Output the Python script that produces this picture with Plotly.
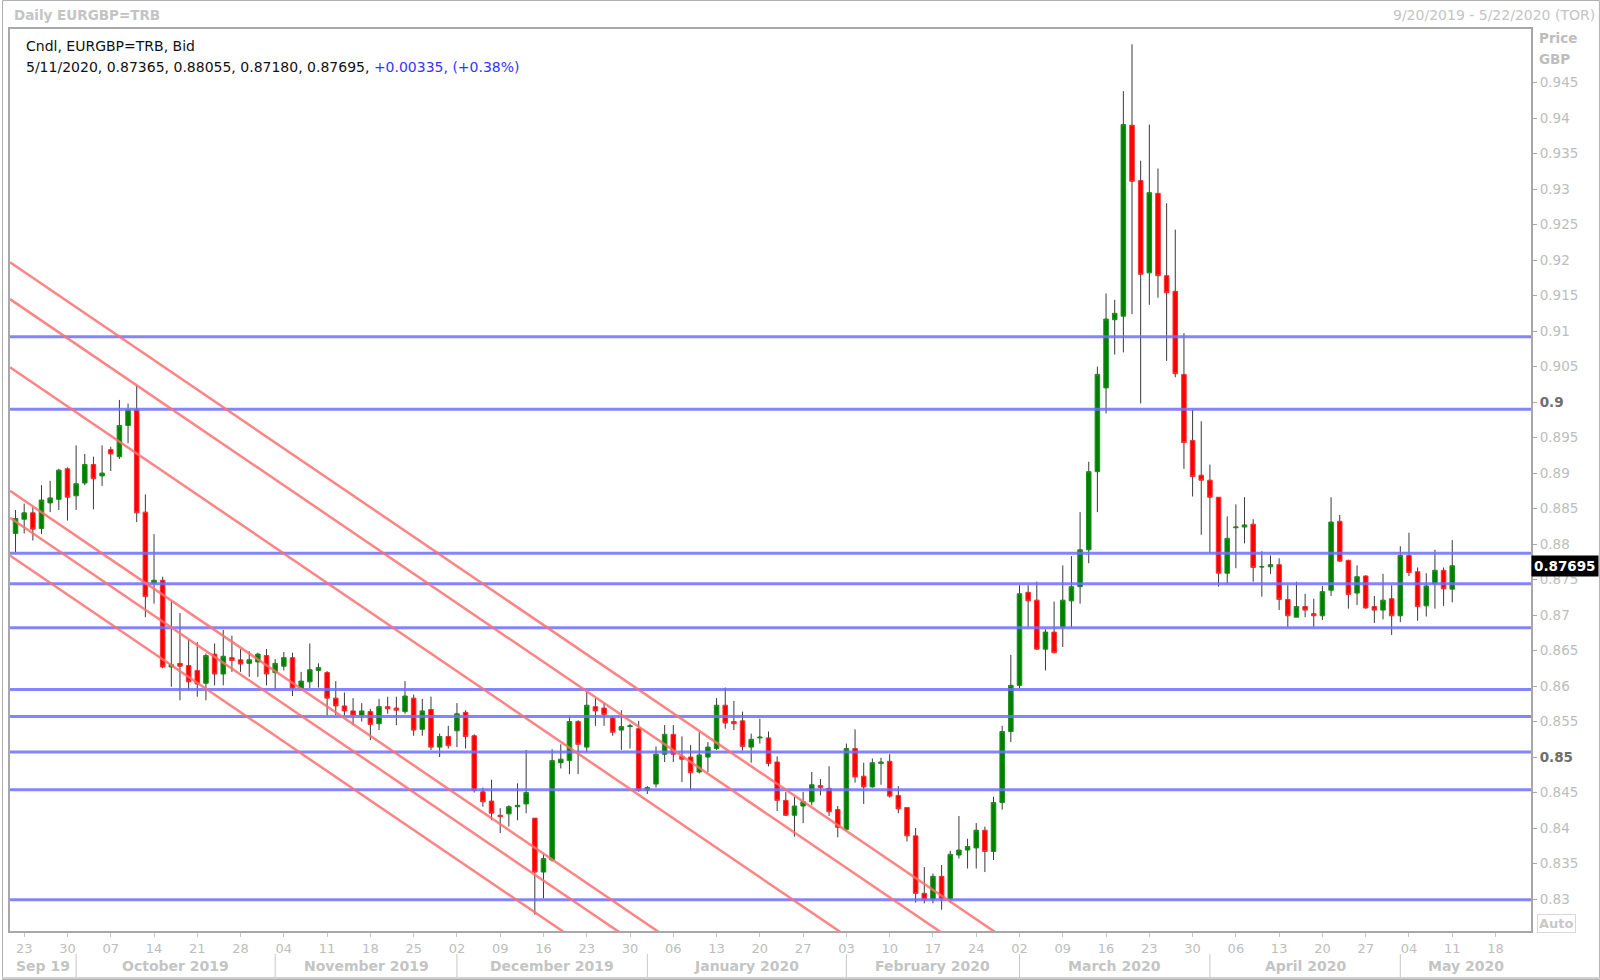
import plotly.graph_objects as go
import pandas as pd

# ---------------- data ----------------
start_date = "2019-09-20"
opens = [0.8815,0.8835,0.8844,0.8822,0.8858,0.8863,0.8906,0.8868,0.8886,0.8912,
         0.8896,0.8933,0.8923,0.8967,0.8989,0.8845,0.8745,0.8749,0.8627,0.8632,
         0.8629,0.8622,0.8604,0.8645,0.8617,0.8640,0.8637,0.8632,0.8634,0.8643,
         0.8619,0.8628,0.8640,0.8597,0.8606,0.8622,0.8619,0.8583,0.8572,0.8565,
         0.8559,0.8564,0.8547,0.8571,0.8569,0.8564,0.8583,0.8539,0.8567,0.8514,
         0.8529,0.8537,0.8563,0.8530,0.8451,0.8438,0.8418,0.8420,0.8430,0.8434,
         0.8414,0.8338,0.8355,0.8492,0.8495,0.8550,0.8514,0.8571,0.8569,0.8555,
         0.8538,0.8543,0.8540,0.8453,0.8462,0.8504,0.8532,0.8501,0.8500,0.8479,
         0.8500,0.8512,0.8573,0.8550,0.8551,0.8514,0.8527,0.8527,0.8493,0.8439,
         0.8418,0.8431,0.8437,0.8460,0.8456,0.8426,0.8398,0.8512,0.8473,0.8458,
         0.8491,0.8494,0.8446,0.8429,0.8389,0.8308,0.8300,0.8332,0.8300,0.8362,
         0.8369,0.8372,0.8397,0.8367,0.8436,0.8536,0.8601,0.8732,0.8721,0.8652,
         0.8676,0.8683,0.8720,0.8740,0.8792,0.8902,0.9020,0.9116,0.9121,0.9390,
         0.9312,0.9182,0.9294,0.9178,0.9156,0.9039,0.8946,0.8897,0.8890,0.8866,
         0.8759,0.8823,0.8824,0.8828,0.8768,0.8768,0.8771,0.8722,0.8697,0.8712,
         0.8702,0.8699,0.8735,0.8832,0.8777,0.8731,0.8755,0.8712,0.8707,0.8723,
         0.8699,0.8784,0.8761,0.8713,0.8744,0.8763,0.87365]
highs = [0.8848,0.8857,0.8852,0.8883,0.8889,0.8906,0.8908,0.8939,0.8927,0.8923,
         0.8939,0.8937,0.9003,0.8998,0.9024,0.8870,0.8814,0.8754,0.8719,0.8703,
         0.8665,0.8662,0.8646,0.8660,0.8679,0.8671,0.8652,0.8649,0.8647,0.8652,
         0.8638,0.8648,0.8647,0.8620,0.8660,0.8632,0.8621,0.8607,0.8591,0.8583,
         0.8576,0.8568,0.8582,0.8585,0.8585,0.8607,0.8588,0.8582,0.8585,0.8533,
         0.8544,0.8576,0.8566,0.8532,0.8457,0.8468,0.8428,0.8432,0.8463,0.8510,
         0.8414,0.8363,0.8511,0.8518,0.8557,0.8552,0.8592,0.8583,0.8576,0.8557,
         0.8566,0.8547,0.8551,0.8459,0.8515,0.8545,0.8545,0.8529,0.8517,0.8535,
         0.8521,0.8583,0.8598,0.8579,0.8564,0.8533,0.8554,0.8536,0.8501,0.8451,
         0.8444,0.8451,0.8479,0.8469,0.8487,0.8431,0.8519,0.8539,0.8492,0.8498,
         0.8499,0.8504,0.8459,0.8429,0.8400,0.8345,0.8336,0.8348,0.8368,0.8417,
         0.8385,0.8407,0.8402,0.8444,0.8544,0.8644,0.8742,0.8742,0.8747,0.8680,
         0.8719,0.8770,0.8783,0.8845,0.8916,0.9050,0.9153,0.9144,0.9438,0.9504,
         0.9340,0.9391,0.9329,0.9280,0.9243,0.9097,0.8989,0.8973,0.8912,0.8866,
         0.8839,0.8856,0.8866,0.8835,0.8790,0.8784,0.8780,0.8742,0.8747,0.8730,
         0.8723,0.8741,0.8866,0.8841,0.8778,0.8770,0.8756,0.8727,0.8758,0.8742,
         0.8797,0.8816,0.8767,0.8759,0.8792,0.8767,0.88055]
lows = [0.8788,0.8815,0.8805,0.8814,0.8845,0.8848,0.8833,0.8848,0.8883,0.8849,
        0.8882,0.8903,0.8920,0.8942,0.8831,0.8697,0.8716,0.8625,0.8599,0.8580,
        0.8594,0.8585,0.8580,0.8601,0.8601,0.8620,0.8620,0.8613,0.8613,0.8601,
        0.8594,0.8622,0.8586,0.8594,0.8597,0.8598,0.8559,0.8559,0.8559,0.8545,
        0.8550,0.8524,0.8538,0.8561,0.8545,0.8561,0.8530,0.8530,0.8510,0.8500,
        0.8512,0.8514,0.8512,0.8450,0.8430,0.8411,0.8393,0.8402,0.8411,0.8421,
        0.8278,0.8301,0.8353,0.8484,0.8476,0.8476,0.8507,0.8544,0.8544,0.8530,
        0.8510,0.8512,0.8451,0.8448,0.8457,0.8493,0.8493,0.8465,0.8453,0.8477,
        0.8479,0.8510,0.8540,0.8538,0.8509,0.8492,0.8519,0.8487,0.8424,0.8417,
        0.8388,0.8407,0.8432,0.8446,0.8417,0.8387,0.8397,0.8464,0.8434,0.8457,
        0.8461,0.8443,0.8421,0.8381,0.8295,0.8294,0.8294,0.8285,0.8295,0.8357,
        0.8343,0.8343,0.8338,0.8355,0.8426,0.8521,0.8597,0.8683,0.8651,0.8622,
        0.8646,0.8655,0.8683,0.8716,0.8773,0.8845,0.8984,0.9067,0.9070,0.9124,
        0.8998,0.9137,0.9147,0.9058,0.9035,0.8906,0.8867,0.8813,0.8787,0.8740,
        0.8745,0.8766,0.8801,0.8747,0.8726,0.8758,0.8707,0.8683,0.8697,0.8697,
        0.8683,0.8693,0.8727,0.8775,0.8709,0.8714,0.8709,0.8689,0.8694,0.8672,
        0.8690,0.8755,0.8692,0.8698,0.8709,0.8713,0.87180]
closes = [0.8836,0.8844,0.8821,0.8862,0.8865,0.8904,0.8866,0.8885,0.8912,0.8892,
          0.8900,0.8927,0.8967,0.8989,0.8844,0.8726,0.8749,0.8627,0.8630,0.8628,
          0.8606,0.8603,0.8643,0.8617,0.8642,0.8636,0.8631,0.8637,0.8645,0.8617,
          0.8632,0.8640,0.8597,0.8607,0.8623,0.8626,0.8583,0.8572,0.8565,0.8559,
          0.8565,0.8546,0.8571,0.8568,0.8566,0.8586,0.8538,0.8565,0.8514,0.8529,
          0.8516,0.8561,0.8529,0.8453,0.8437,0.8421,0.8416,0.8430,0.8432,0.8450,
          0.8338,0.8357,0.8495,0.8497,0.8550,0.8518,0.8573,0.8565,0.8560,0.8535,
          0.8543,0.8544,0.8453,0.8457,0.8504,0.8532,0.8504,0.8497,0.8478,0.8503,
          0.8514,0.8573,0.8548,0.8547,0.8515,0.8525,0.8528,0.8491,0.8439,0.8418,
          0.8431,0.8437,0.8461,0.8457,0.8423,0.8401,0.8512,0.8472,0.8458,0.8492,
          0.8493,0.8445,0.8427,0.8389,0.8308,0.8300,0.8332,0.8301,0.8363,0.8369,
          0.8374,0.8397,0.8367,0.8436,0.8536,0.8601,0.8730,0.8720,0.8652,0.8676,
          0.8647,0.8721,0.8740,0.8792,0.8902,0.9039,0.9117,0.9125,0.9391,0.9311,
          0.9180,0.9295,0.9178,0.9154,0.9040,0.8943,0.8895,0.8890,0.8866,0.8759,
          0.8808,0.8824,0.8827,0.8767,0.8768,0.8771,0.8722,0.8699,0.8712,0.8707,
          0.8699,0.8733,0.8831,0.8776,0.8729,0.8754,0.8710,0.8707,0.8721,0.8699,
          0.8784,0.8760,0.8712,0.8741,0.8763,0.8737,0.87695]

# header values (last bar, change vs previous close)
header_date = "5/11/2020"
header_change = "+0.00335"
header_pct = "(+0.38%)"

# weekly (Monday) tick labels
monday_labels = ["23","30","07","14","21","28","04","11","18","25","02","09","16",
                 "23","30","06","13","20","27","03","10","17","24","02","09","16",
                 "23","30","06","13","20","27","04","11","18"]
month_labels = ["Sep 19","October 2019","November 2019","December 2019","January 2020",
                "February 2020","March 2020","April 2020","May 2020"]
month_starts = ["2019-09-20","2019-10-01","2019-11-01","2019-12-02","2020-01-01",
                "2020-02-03","2020-03-02","2020-04-01","2020-05-01"]
end_date = "2020-05-22"

# horizontal support / resistance levels
h_levels = [0.9092, 0.8990, 0.8787, 0.8744, 0.8682, 0.8595, 0.8557, 0.8507, 0.8454, 0.8299]
# descending trend channel lines: price at the left edge and common slope (per bar)
trend_start = [0.9197, 0.9145, 0.9049, 0.8875, 0.8837, 0.8784]
trend_slope = -0.000829

y_tick_vals = [0.83,0.835,0.84,0.845,0.85,0.855,0.86,0.865,0.87,0.875,0.88,0.885,
               0.89,0.895,0.9,0.905,0.91,0.915,0.92,0.925,0.93,0.935,0.94,0.945]
y_tick_text = ["0.83","0.835","0.84","0.845","0.85","0.855","0.86","0.865","0.87","0.875",
               "0.88","0.885","0.89","0.895","0.9","0.905","0.91","0.915","0.92","0.925",
               "0.93","0.935","0.94","0.945"]
bold_ticks = ["0.9", "0.85"]
last_price = 0.87695

# ---------------- derived positions (trading-day index axis) ----------------
idx = list(range(len(opens)))
t0 = pd.Timestamp(start_date)
def bidx(d):
    d = pd.Timestamp(d)
    return len(pd.bdate_range(t0, d)) - 1
all_days = pd.bdate_range(start_date, end_date)
monday_idx = [i for i, d in enumerate(all_days) if d.weekday() == 0]
x_min, x_max = -0.64, bidx(end_date) + 0.1
y_min, y_max = 0.8255, 0.95255

# ---------------- figure ----------------
W, H = 1600, 980
ML, MR, MT, MB = 8, 69, 29, 49
PW, PH = W - ML - MR, H - MT - MB
def px(xp):  # figure pixel -> paper x
    return (xp - ML) / PW
def py(yp):  # figure pixel -> paper y
    return (H - MB - yp) / PH

fig = go.Figure()

# wicks (above and below bodies)
wx, wy = [], []
for i, o, h, l, c in zip(idx, opens, highs, lows, closes):
    top, bot = max(o, c), min(o, c)
    wx += [i, i, None, i, i, None]
    wy += [h, top, None, bot, l, None]
fig.add_trace(go.Scatter(x=wx, y=wy, mode="lines", line=dict(color="#3a3a3a", width=1),
                         hoverinfo="skip"))

body_hi = [max(o, c) for o, c in zip(opens, closes)]
body_lo = [min(o, c) for o, c in zip(opens, closes)]
fig.add_trace(go.Candlestick(
    x=idx, open=opens, high=body_hi, low=body_lo, close=closes,
    increasing=dict(line=dict(color="#1f8f1f", width=1), fillcolor="#008000"),
    decreasing=dict(line=dict(color="#ff3030", width=1), fillcolor="#ff0000"),
    whiskerwidth=0))

# horizontal levels
for lv in h_levels:
    fig.add_trace(go.Scatter(x=[x_min - 2, x_max + 2], y=[lv, lv], mode="lines",
                             line=dict(color="rgba(110,110,255,0.85)", width=3),
                             hoverinfo="skip"))
# trend channel
for p0 in trend_start:
    x_end = x_min + (0.80 - p0) / trend_slope
    fig.add_trace(go.Scatter(x=[x_min, x_end], y=[p0, 0.80], mode="lines",
                             line=dict(color="rgba(255,110,110,0.85)", width=2.5),
                             hoverinfo="skip"))

ytext = []
for t in y_tick_text:
    if t in bold_ticks:
        ytext.append('<span style="color:#6e6e6e"><b>%s</b></span>' % t)
    else:
        ytext.append(t)

fig.update_layout(
    width=W, height=H, margin=dict(l=ML, r=MR, t=MT, b=MB),
    paper_bgcolor="white", plot_bgcolor="white", showlegend=False,
    boxgap=0.25,
    xaxis=dict(range=[x_min, x_max], rangeslider=dict(visible=False),
               tickmode="array", tickvals=monday_idx, ticktext=monday_labels,
               ticks="outside", ticklen=4, tickcolor="#c8c8c8",
               tickfont=dict(family="DejaVu Sans", size=13, color="#bdbdbd"),
               showgrid=False, zeroline=False, showline=True, mirror=True,
               linecolor="#a8a8a8", linewidth=2),
    yaxis=dict(range=[y_min, y_max], side="right", tickmode="array",
               tickvals=y_tick_vals, ticktext=ytext, ticks="outside", ticklen=4,
               tickcolor="#a8a8a8",
               tickfont=dict(family="DejaVu Sans", size=13.5, color="#bdbdbd"),
               showgrid=False, zeroline=False, showline=True, mirror=True,
               linecolor="#a8a8a8", linewidth=2),
    font=dict(family="DejaVu Sans"),
)

ann = []
# header lines
ann.append(dict(xref="paper", yref="paper", x=px(22), y=py(46), xanchor="left", yanchor="middle",
                text="Cndl, EURGBP=TRB, Bid", showarrow=False,
                font=dict(family="DejaVu Sans", size=14, color="#111111")))
ann.append(dict(xref="paper", yref="paper", x=px(22), y=py(67), xanchor="left", yanchor="middle",
                text="%s, %.5f, %.5f, %.5f, %.5f, " % (header_date, opens[-1], highs[-1], lows[-1], closes[-1])
                     + '<span style="color:#3434ff">%s, %s</span>' % (header_change, header_pct),
                showarrow=False, font=dict(family="DejaVu Sans", size=14, color="#111111")))
# titles outside the plot
ann.append(dict(xref="paper", yref="paper", x=px(10), y=py(15), xanchor="left", yanchor="middle",
                text="<b>Daily EURGBP=TRB</b>", showarrow=False,
                font=dict(family="DejaVu Sans", size=13.5, color="#c4c4c4")))
ann.append(dict(xref="paper", yref="paper", x=px(1597), y=py(15), xanchor="right", yanchor="middle",
                text="9/20/2019 - 5/22/2020 (TOR)", showarrow=False,
                font=dict(family="DejaVu Sans", size=14, color="#c4c4c4")))
ann.append(dict(xref="paper", yref="paper", x=px(1537), y=py(38), xanchor="left", yanchor="middle",
                text="<b>Price</b>", showarrow=False,
                font=dict(family="DejaVu Sans", size=13.5, color="#bdbdbd")))
ann.append(dict(xref="paper", yref="paper", x=px(1537), y=py(59), xanchor="left", yanchor="middle",
                text="<b>GBP</b>", showarrow=False,
                font=dict(family="DejaVu Sans", size=13.5, color="#bdbdbd")))
ann.append(dict(xref="paper", yref="paper", x=px(1537), y=py(923), xanchor="left", yanchor="middle",
                text="<b>Auto</b>", showarrow=False, bordercolor="#d8d8d8", borderwidth=1, borderpad=1,
                font=dict(family="DejaVu Sans", size=13, color="#c8c8c8")))
# last price tag
ann.append(dict(xref="paper", yref="y", x=1.0, y=last_price, xanchor="left", yanchor="middle",
                text="<b>%.5f</b>" % last_price, showarrow=False, bgcolor="black", borderpad=2,
                font=dict(family="DejaVu Sans", size=13.5, color="white")))
# month labels + separators
shapes = []
ms_idx = [bidx(d) for d in month_starts]
bounds = [x_min] + ms_idx[1:] + [x_max]
for k, lab in enumerate(month_labels):
    xc = (bounds[k] + bounds[k + 1]) / 2
    ann.append(dict(xref="x", yref="paper", x=xc, y=py(966), xanchor="center", yanchor="middle",
                    text="<b>%s</b>" % lab, showarrow=False,
                    font=dict(family="DejaVu Sans", size=14, color="#c4c4c4")))
for b in ms_idx[1:]:
    shapes.append(dict(type="line", xref="x", yref="paper", x0=b, x1=b, y0=py(954), y1=py(979),
                       line=dict(color="#c8c8c8", width=1)))
# outer frame
shapes.append(dict(type="rect", xref="paper", yref="paper", x0=px(0.5), x1=px(1599.5),
                   y0=py(979.5), y1=py(0.5), line=dict(color="#b0b0b0", width=1)))
shapes.append(dict(type="line", xref="paper", yref="paper", x0=px(0), x1=px(1600),
                   y0=py(978), y1=py(978), line=dict(color="#d0d0d0", width=2)))
fig.update_layout(annotations=ann, shapes=shapes)

fig.write_html("out.html", config={"displayModeBar": False},
               post_script="document.body.style.margin='0';document.body.style.padding='0';"
                           "document.body.style.overflow='hidden';")
